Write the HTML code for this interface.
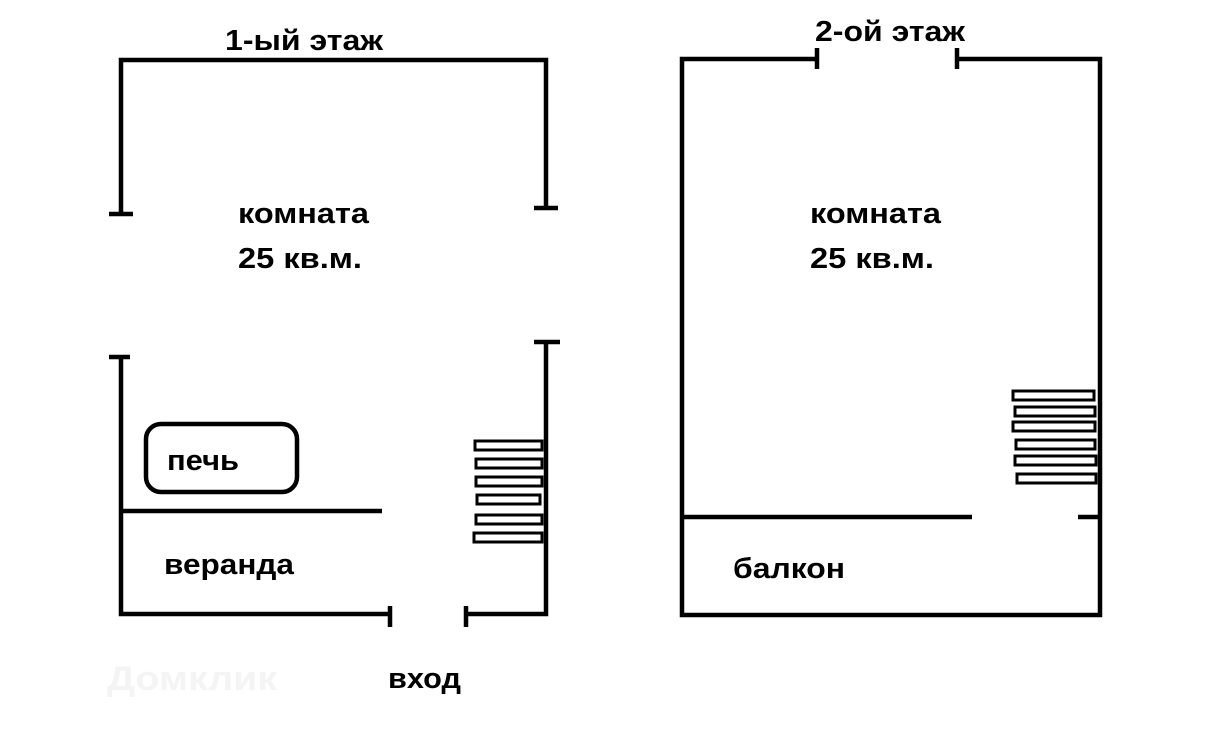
<!DOCTYPE html>
<html><head><meta charset="utf-8"><style>
html,body{margin:0;padding:0;background:#fff;}
svg{display:block}
text{font-family:"Liberation Sans","DejaVu Sans",sans-serif;font-weight:bold;fill:#000;}
</style></head><body>
<svg width="1222" height="734" viewBox="0 0 1222 734" xmlns="http://www.w3.org/2000/svg">
<g stroke="#000" stroke-width="4.5" fill="none" stroke-linecap="butt">
<polyline points="121,214 121,60 546,60 546,208"/>
<line x1="109" y1="214" x2="133" y2="214"/>
<line x1="534" y1="208" x2="558" y2="208"/>
<line x1="109" y1="357" x2="130" y2="357"/>
<polyline points="121,357 121,614 390,614"/>
<line x1="390" y1="606" x2="390" y2="627"/>
<line x1="534" y1="342" x2="560" y2="342"/>
<polyline points="546,342 546,614 466,614"/>
<line x1="466" y1="606" x2="466" y2="627"/>
<line x1="121" y1="511" x2="382" y2="511"/>
<rect x="146" y="424" width="151" height="68" rx="15"/>
<g stroke-width="3">
<rect x="475" y="441" width="67" height="9"/>
<rect x="476" y="459" width="66" height="9"/>
<rect x="476" y="477" width="66" height="9"/>
<rect x="477" y="495" width="63" height="9"/>
<rect x="476" y="515" width="66" height="9"/>
<rect x="474" y="533" width="68" height="9"/>
</g>
<polyline points="817,59 682,59 682,615 1100,615 1100,59 957,59"/>
<line x1="817" y1="48" x2="817" y2="69"/>
<line x1="957" y1="48" x2="957" y2="69"/>
<line x1="682" y1="517" x2="972" y2="517"/>
<line x1="1078" y1="517" x2="1102" y2="517"/>
<g stroke-width="3">
<rect x="1013" y="391" width="81" height="9"/>
<rect x="1015" y="407" width="80" height="9"/>
<rect x="1013" y="422" width="82" height="9"/>
<rect x="1016" y="440" width="79" height="9"/>
<rect x="1015" y="456" width="81" height="9"/>
<rect x="1017" y="474" width="79" height="9"/>
</g>
</g>
<g font-size="29">
<text x="225" y="50" textLength="158" lengthAdjust="spacingAndGlyphs">1-ый этаж</text>
<text x="815" y="41" textLength="150" lengthAdjust="spacingAndGlyphs">2-ой этаж</text>
<text x="238" y="223" textLength="131" lengthAdjust="spacingAndGlyphs">комната</text>
<text x="238" y="268" textLength="124" lengthAdjust="spacingAndGlyphs">25 кв.м.</text>
<text x="810" y="223" textLength="131" lengthAdjust="spacingAndGlyphs">комната</text>
<text x="810" y="268" textLength="124" lengthAdjust="spacingAndGlyphs">25 кв.м.</text>
<text x="167" y="470" textLength="72" lengthAdjust="spacingAndGlyphs">печь</text>
<text x="164" y="574" textLength="130" lengthAdjust="spacingAndGlyphs">веранда</text>
<text x="733" y="578" textLength="112" lengthAdjust="spacingAndGlyphs">балкон</text>
<text x="388" y="688" textLength="73" lengthAdjust="spacingAndGlyphs">вход</text>
</g>
<text x="107" y="690" font-size="34" style="fill:#f4f4f4" textLength="170" lengthAdjust="spacingAndGlyphs">Домклик</text>
</svg>
</body></html>
